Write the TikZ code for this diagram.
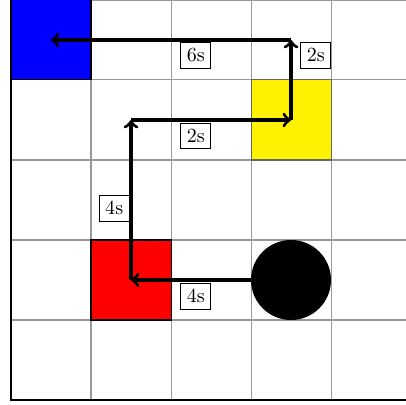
\documentclass[tikz,border=0pt]{standalone}
\begin{document}
\begin{tikzpicture}[x=1.4cm,y=1.4cm,
  gridline/.style={gray!80,line width=0.5pt},
  cellbox/.style={draw=black,line width=0.5pt},
  move/.style={->,line width=1.6pt,black},
  tlabel/.style={draw=black,fill=white,line width=0.4pt,inner sep=3pt}]
\useasboundingbox (-0.1375,-0.05) rectangle (4.9375,5.0);
\draw[gridline,step=1.4cm] (0,0) grid (5,5);
\draw[black,line width=0.8pt] (0,5) -- (0,0) -- (5,0);
\fill[blue,cellbox] (0,4) rectangle (1,5);
\fill[yellow,draw=none] (3,3) rectangle (4,4);
\draw[cellbox,draw=black!60] (3,3) rectangle (4,4);
\fill[red,cellbox] (1,1) rectangle (2,2);
\coordinate (c1) at (1.5,1.5);
\coordinate (c2) at (1.5,3.5);
\coordinate (c3) at (3.5,3.5);
\coordinate (c4) at (3.5,4.5);
\coordinate (c5) at (0.5,4.5);
\node[circle,fill=black,minimum size=1.4cm,inner sep=0pt] (ball) at (3.5,1.5) {};
\draw[move] (ball.west) -- (c1);
\draw[move] (c1) -- (c2);
\draw[move] (c2) -- (c3);
\draw[move] (c3) -- (c4);
\draw[move] (c4) -- (c5);
\node[tlabel] (l1) at (2.31,1.3) {4s};
\node[tlabel] (l2) at (1.29,2.4) {4s};
\node[tlabel] (l3) at (2.31,3.3) {2s};
\node[tlabel] (l4) at (3.81,4.31) {2s};
\node[tlabel] (l5) at (2.31,4.31) {6s};
\end{tikzpicture}
\end{document}
